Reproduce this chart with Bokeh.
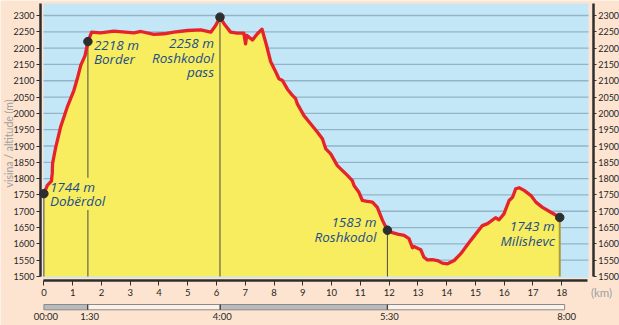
import math
from bokeh.plotting import figure
from bokeh.models import Range1d, LinearAxis, FixedTicker
from bokeh.core.properties import value
from bokeh.embed import file_html
from bokeh.resources import INLINE

# ---------------- data ----------------
km = [0.00, 0.12, 0.26, 0.29, 0.30, 0.41, 0.58, 0.81, 1.04, 1.16, 1.28, 1.43, 1.53, 1.66,
      1.97, 2.43, 3.13, 3.37, 3.82, 4.17, 4.52, 4.99, 5.45, 5.80, 5.97, 6.12, 6.26, 6.49,
      6.72, 6.95, 7.01, 7.05, 7.25, 7.42, 7.58, 7.74, 7.88, 8.06, 8.17, 8.29, 8.46, 8.64,
      8.75, 8.81, 9.04, 9.27, 9.51, 9.68, 9.80, 9.97, 10.20, 10.55, 10.72, 10.78, 10.95,
      11.07, 11.19, 11.42, 11.59, 11.77, 11.94, 12.05, 12.30, 12.52, 12.69, 12.81, 12.86,
      13.10, 13.21, 13.33, 13.50, 13.68, 13.85, 14.03, 14.26, 14.49, 14.83, 15.24, 15.42,
      15.70, 15.82, 15.99, 16.17, 16.29, 16.40, 16.52, 16.69, 16.93, 17.10, 17.33, 17.62,
      17.93]
elev = [1754, 1779, 1792, 1816, 1846, 1896, 1958, 2019, 2070, 2106, 2147, 2177, 2220, 2249,
        2247, 2252, 2247, 2251, 2242, 2244, 2249, 2254, 2256, 2249, 2269, 2295, 2275, 2249,
        2246, 2246, 2213, 2239, 2225, 2244, 2258, 2208, 2159, 2127, 2106, 2101, 2075, 2055,
        2045, 2029, 1993, 1968, 1942, 1922, 1891, 1876, 1840, 1810, 1794, 1779, 1758,
        1733, 1731, 1728, 1712, 1672, 1642, 1636, 1630, 1626, 1616, 1588, 1592,
        1582, 1559, 1551, 1552, 1549, 1541, 1539, 1549, 1570, 1610, 1656, 1662,
        1680, 1674, 1692, 1733, 1743, 1769, 1772, 1764, 1748, 1728, 1712, 1697,
        1681]

marker_km = [0.0, 1.53, 6.12, 11.94, 17.93]
marker_elev = [1754, 2220, 2295, 1642, 1681]
marker_text = ["1744 m\nDobërdol", "2218 m\nBorder", "2258 m\nRoshkodol\npass",
               "1583 m\nRoshkodol", "1743 m\nMilishevc"]

y_ticks = list(range(1500, 2301, 50))
x_ticks = list(range(0, 19))
time_km = [0, 1.52, 6.13, 11.94, 18.1]
time_labels = ["00:00", "1:30", "4:00", "5:30", "8:00"]
x_title = "(km)"
y_title = "visina / altitude (m)"

# ---------------- styles / geometry ----------------
PEACH = "#FDE4D0"
BLUE = "#C4E7F7"
GRID = "#93B4C8"
YELLOW = "#F8EC5F"
RED = "#E5232A"
DARK = "#2E2E2E"
TXT_BLUE = "#1D4E89"
GRAY_T = "#A0A0A0"
TICK_TXT = "#262626"

W, H = 619, 325
PX_KM = 28.77          # pixels per km
PX_M = 0.32625         # pixels per metre
X0_PX = 43.4           # pixel column of km 0
Y1500_PX = 276.0       # pixel row of 1500 m


def xd(px):
    return (px - X0_PX) / PX_KM


def yd(py):
    return 1500 + (Y1500_PX - py) / PX_M


p = figure(width=W, height=H, output_backend="svg", toolbar_location=None,
           x_range=Range1d(xd(0), xd(W)), y_range=Range1d(yd(H), yd(0)),
           min_border=0, min_border_left=0, min_border_right=0, min_border_top=0,
           min_border_bottom=0, background_fill_color=PEACH, border_fill_color=PEACH,
           outline_line_color=None)
p.grid.visible = False
p.add_layout(LinearAxis(), "right")

y_top = yd(3)
p.yaxis[0].fixed_location = xd(40)
p.yaxis[1].fixed_location = xd(592.7)
p.xaxis[0].fixed_location = yd(279.5)
for ax in p.axis:
    ax.axis_line_color = DARK
    ax.axis_line_width = 2.5
    ax.major_tick_line_color = DARK
    ax.major_tick_line_width = 1
    ax.major_tick_in = 0
    ax.minor_tick_line_color = None
    ax.major_label_text_font = "Lato"
    ax.major_label_text_font_size = "9px"
    ax.major_label_text_color = TICK_TXT
for ax in p.yaxis:
    ax.ticker = FixedTicker(ticks=y_ticks)
    ax.bounds = (1500, y_top)
    ax.major_tick_out = 4
    ax.major_label_standoff = 2
p.yaxis[1].major_tick_out = 3
p.yaxis[1].major_label_standoff = 2
for ax in p.xaxis:
    ax.ticker = FixedTicker(ticks=x_ticks)
    ax.bounds = (0, xd(587))
    ax.major_tick_out = 5
    ax.major_label_standoff = 4
    ax.major_label_text_font_size = "9.5px"

# blue sky background and grid
blue_l, blue_r = xd(43.0), xd(588.0)
p.quad(left=blue_l, right=blue_r, bottom=yd(277.2), top=y_top, fill_color=BLUE, line_color=None)
p.segment(x0=blue_l, x1=blue_r, y0=y_ticks[1:], y1=y_ticks[1:], line_color=GRID, line_width=1.3)

# profile fill
p.varea(x=km, y1=1500, y2=elev, fill_color=YELLOW)

# vertical marker lines
vcol = ["#4A4A4A", "#4A4A4A", "#4A4A4A", "#4A4A4A", "#A99B3A"]
vwid = [1, 1, 1, 1, 2]
p.segment(x0=marker_km, x1=marker_km, y0=1500, y1=marker_elev, line_color=vcol, line_width=vwid)

# labels
align = ["left", "left", "right", "right", "right"]
xoff = [6, 6, -6, -11, -5]
yoff = [-16, -6, 17, -17, 0]
for side in ("left", "right"):
    idx = [i for i in range(len(marker_km)) if align[i] == side]
    p.text(x=[marker_km[i] for i in idx], y=[marker_elev[i] for i in idx],
           text=[marker_text[i] for i in idx],
           x_offset=[xoff[i] for i in idx], y_offset=[yoff[i] for i in idx],
           text_align=side, text_baseline="top", text_font=value("Open Sans"),
           text_font_style="italic", text_font_size="13.5px", text_color=TXT_BLUE,
           text_line_height=0.8, background_fill_color=YELLOW)

# profile line and markers
p.line(x=km, y=elev, line_color=RED, line_width=3.3, line_join="round")
p.scatter(x=marker_km, y=marker_elev, size=8.5, fill_color=DARK, line_color=DARK)

# axis titles
p.text(x=[xd(601)], y=[yd(292)], text=[x_title], text_align="center",
       text_baseline="middle", text_font=value("Lato"), text_font_size="11.5px",
       text_color=GRAY_T)
p.text(x=[xd(8)], y=[yd(143)], text=[y_title], angle=math.pi / 2, text_align="center",
       text_baseline="middle", text_font=value("Lato"), text_font_size="10.5px",
       text_color=GRAY_T)

# ---------------- time bar ----------------
bar_fill = ["#B9BABD", "#FBF1E9", "#B9BABD", "#FBF1E9"]
p.quad(left=time_km[:-1], right=time_km[1:], bottom=yd(309.3), top=yd(304), fill_color=bar_fill,
       line_color="#8A8A8A", line_width=1)
p.segment(x0=time_km[1:-1], x1=time_km[1:-1], y0=yd(309.3), y1=yd(304),
          line_color="#444444", line_width=1.3)
p.text(x=time_km, y=yd(315.7), text=time_labels, x_offset=2, text_align="center",
       text_baseline="middle", text_font=value("Lato"), text_font_size="9.5px",
       text_color=TICK_TXT)

open("out.html", "w").write(file_html(p, INLINE))
